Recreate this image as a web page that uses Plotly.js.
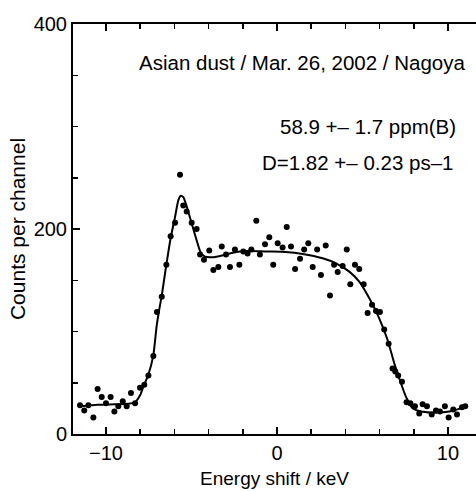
<!DOCTYPE html>
<html>
<head>
<meta charset="utf-8">
<script src="https://cdn.plot.ly/plotly-3.0.1.min.js"></script>
<style>html,body{margin:0;padding:0;background:#fff;}#chart{width:476px;height:491px;}</style>
</head>
<body>
<div id="chart"></div>
<script>
// Measured counts per channel (dots)
const energyShift = [-11.52,-11.27,-11.03,-10.74,-10.49,-10.25,-10.00,-9.73,-9.51,-9.28,-9.02,-8.79,-8.54,-8.30,-8.01,-7.76,-7.52,-7.23,-7.02,-6.74,-6.47,-6.22,-5.96,-5.67,-5.48,-5.28,-4.99,-4.70,-4.50,-4.27,-3.96,-3.72,-3.43,-3.23,-2.98,-2.75,-2.46,-2.20,-1.97,-1.72,-1.50,-1.21,-1.00,-0.70,-0.45,-0.22,0.04,0.33,0.57,0.82,1.06,1.35,1.59,1.83,2.09,2.35,2.57,2.85,3.10,3.34,3.55,3.84,4.08,4.29,4.56,4.81,5.07,5.30,5.56,5.79,6.02,6.27,6.53,6.76,6.92,7.09,7.31,7.58,7.80,8.07,8.32,8.52,8.77,9.05,9.30,9.53,9.82,10.04,10.31,10.53,10.82,11.01];
const counts = [28,23,28,16,44,36,30,36,22,27,32,27,40,30,45,48,57,76,119,134,165,193,206,253,223,217,206,200,175,170,179,160,163,183,175,163,180,165,178,176,180,208,175,185,192,165,186,182,202,183,161,171,180,186,163,180,155,184,135,165,158,164,180,146,165,161,146,118,126,120,119,102,88,64,61,57,51,31,30,27,20,29,27,19,23,22,27,16,24,19,26,27];

// Fitted curve (solid line)
const fitX = [-11.5,-10.5,-9.5,-8.7,-8.3,-8.0,-7.82,-7.52,-7.23,-7.04,-6.9,-6.74,-6.49,-6.22,-5.96,-5.77,-5.63,-5.48,-5.28,-4.99,-4.70,-4.46,-4.21,-3.92,-3.53,-2.94,-2.36,-1.77,-0.45,0.5,1.5,2.67,3.45,4.23,4.81,5.40,5.98,6.47,6.86,7.25,7.54,7.93,8.52,9.30,10.08,11.05];
const fitY = [27,28.5,29,29.5,31,38,46,58,77,105,120,135,163,191,212,228,232.5,231,222,205.6,189,177,173,172.5,173,175.3,177.5,178.5,178,177.5,175.6,171.4,166.5,158.4,148.6,132.4,112.9,91.7,69,49.5,36.4,25.1,21.8,21,22,26.5];

const xTickVals = [-10, 0, 10];
const yTickVals = [0, 200, 400];

const titleText = "Asian dust / Mar. 26, 2002 / Nagoya";
const fitText1 = "58.9 +\u2013 1.7 ppm(B)";
const fitText2 = "D=1.82 +\u2013 0.23 ps\u20131";

const FONT = "Liberation Sans, Arial, Helvetica, sans-serif";

const traces = [
  {x: energyShift, y: counts, type: 'scatter', mode: 'markers',
   marker: {color: '#000', size: 6}, hoverinfo: 'x+y', showlegend: false},
  {x: fitX, y: fitY, type: 'scatter', mode: 'lines',
   line: {color: '#000', width: 2, shape: 'spline', smoothing: 0.6}, showlegend: false}
];

const layout = {
  width: 476, height: 491,
  margin: {l: 73, r: 0, t: 24, b: 57},
  paper_bgcolor: '#fff', plot_bgcolor: '#fff',
  font: {family: FONT, size: 20, color: '#000'},
  showlegend: false,
  xaxis: {
    range: [-11.93, 11.64],
    tickmode: 'array', tickvals: xTickVals,
    ticks: 'inside', ticklen: 7, tickwidth: 1.5, tickcolor: '#000',
    minor: {dtick: 2, tick0: 0, ticks: 'inside', ticklen: 5, tickwidth: 1.5, tickcolor: '#000', showgrid: false},
    showline: true, linecolor: '#000', linewidth: 2, mirror: 'ticks',
    showgrid: false, zeroline: false,
    tickfont: {family: FONT, size: 20, color: '#000'},
    title: {text: 'Energy shift / keV', font: {family: FONT, size: 19, color: '#000'}, standoff: 9},
    automargin: false
  },
  yaxis: {
    range: [0, 400],
    tickmode: 'array', tickvals: yTickVals,
    ticks: 'inside', ticklen: 7, tickwidth: 1.5, tickcolor: '#000',
    minor: {dtick: 50, tick0: 0, ticks: 'inside', ticklen: 5, tickwidth: 1.5, tickcolor: '#000', showgrid: false},
    showline: true, linecolor: '#000', linewidth: 2, mirror: false,
    showgrid: false, zeroline: false,
    tickfont: {family: FONT, size: 20, color: '#000'},
    title: {text: 'Counts per channel', font: {family: FONT, size: 21, color: '#000'}, standoff: 2},
    automargin: false
  },
  annotations: [
    {text: titleText, xref: 'paper', yref: 'paper', x: 0.98, y: 0.905, xanchor: 'right', yanchor: 'middle', showarrow: false, font: {family: FONT, size: 20.5, color: '#000'}},
    {text: fitText1, xref: 'paper', yref: 'paper', x: 0.955, y: 0.749, xanchor: 'right', yanchor: 'middle', showarrow: false, font: {family: FONT, size: 20.5, color: '#000'}},
    {text: fitText2, xref: 'paper', yref: 'paper', x: 0.95, y: 0.661, xanchor: 'right', yanchor: 'middle', showarrow: false, font: {family: FONT, size: 20.5, color: '#000'}}
  ]
};

Plotly.newPlot('chart', traces, layout, {staticPlot: true, displayModeBar: false});
</script>
</body>
</html>
